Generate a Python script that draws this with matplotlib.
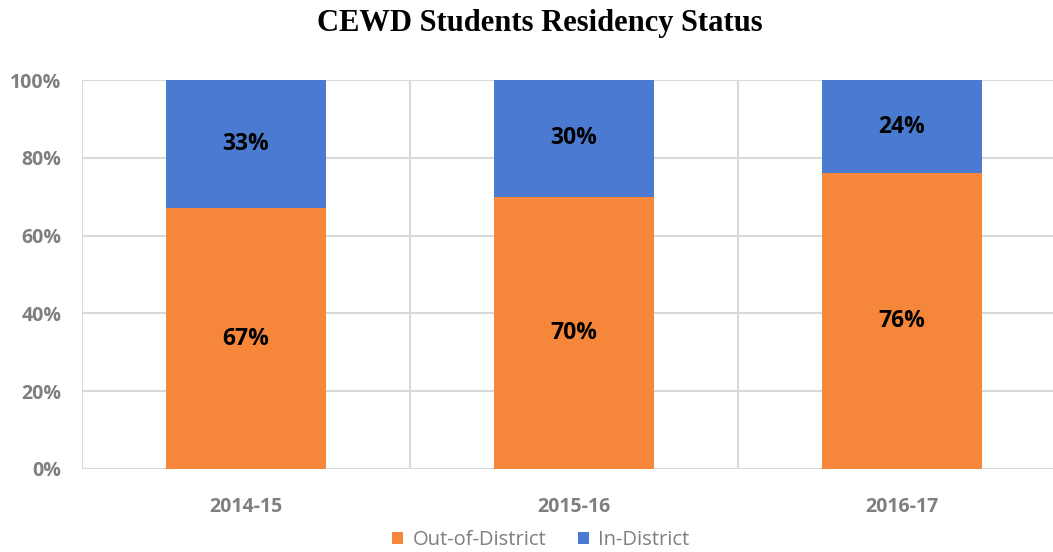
import matplotlib
matplotlib.use("Agg")
import matplotlib.pyplot as plt
import numpy as np

categories = ["2014-15", "2015-16", "2016-17"]
out_district = [67, 70, 76]
in_district = [33, 30, 24]
series_names = ["Out-of-District", "In-District"]
colors = ["#F6873A", "#4A7BD0"]
yticks = [0, 20, 40, 60, 80, 100]

fig = plt.figure(figsize=(10.53, 5.52), dpi=100)
ax = fig.add_axes([82/1053, 1-469/552, (1066-82)/1053, (469-80)/552])

x = np.arange(len(categories))
w = 0.49
b1 = ax.bar(x, out_district, w, color=colors[0], label=series_names[0], zorder=3)
b2 = ax.bar(x, in_district, w, bottom=out_district, color=colors[1], label=series_names[1], zorder=3)

lab_kw = dict(ha="center", va="center", fontsize=16.5, fontweight="bold",
              family="Open Sans", color="black", zorder=4)
for xi, v in zip(x, out_district):
    ax.text(xi, v/2, f"{v}%", **lab_kw)
for xi, v, b in zip(x, in_district, out_district):
    ax.text(xi, b + v/2, f"{v}%", **lab_kw)

ax.set_xlim(-0.5, len(categories)-0.5)
ax.set_ylim(0, 100)
ax.set_yticks(yticks)
ax.set_yticklabels([f"{t}%" for t in yticks])
ax.set_xticks(x)
ax.set_xticklabels(categories)
grid_c = "#D9D9D9"
for t in yticks:
    ax.axhline(t, color=grid_c, lw=1.5, zorder=1)
for xb in np.arange(-0.5, len(categories)+0.5, 1.0):
    ax.axvline(xb, color=grid_c, lw=1.5, zorder=1)
for s in ax.spines.values():
    s.set_visible(False)
ax.tick_params(length=0, colors="#7F7F7F", labelsize=14)
for lab in ax.get_xticklabels() + ax.get_yticklabels():
    lab.set_fontweight("bold")
    lab.set_family("Open Sans")
ax.tick_params(axis="y", pad=15)
ax.tick_params(axis="x", pad=20)

fig.text(540/1053, 1-23/552, "CEWD Students Residency Status", ha="center", va="center",
         fontsize=22, fontweight="bold", family="Liberation Serif")

leg = fig.legend(handles=[b1, b2], loc="center", bbox_to_anchor=(541/1053, 1-540/552), ncol=2,
                 frameon=False, handlelength=0.55, handleheight=0.55, handletextpad=0.45,
                 columnspacing=1.6, prop={"family": "Open Sans", "size": 14.5})
for t in leg.get_texts():
    t.set_color("#7F7F7F")

fig.savefig("out.png", dpi=100)
